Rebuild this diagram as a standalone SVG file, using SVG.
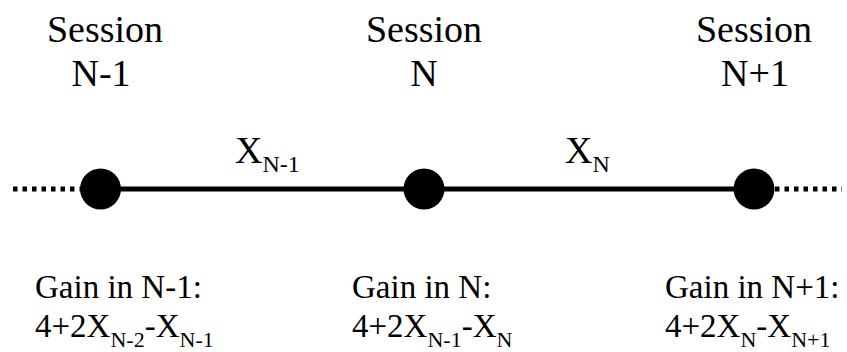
<svg xmlns="http://www.w3.org/2000/svg" width="847" height="352" viewBox="0 0 847 352">
<defs>
<line id="dotseg" x1="0" y1="0" x2="1" y2="0"/>
</defs>
<rect width="847" height="352" fill="#fff"/>
<g id="connectors" stroke="#000" stroke-width="5" fill="none">
<line x1="13" y1="189" x2="82" y2="189" stroke-dasharray="4.5 5"/>
<line x1="100" y1="189" x2="754" y2="189"/>
<line x1="775" y1="189" x2="842" y2="189" stroke-dasharray="4.5 5"/>
</g>
<g id="edge-labels" font-family="Liberation Serif" font-size="38" fill="#000">
<text x="235" y="163">X<tspan font-size="24" dy="9">N-1</tspan></text>
<text x="565" y="163">X<tspan font-size="24" dy="9">N</tspan></text>
</g>
<g id="node-n-minus-1" font-family="Liberation Serif" fill="#000">
<circle cx="100.5" cy="189" r="20.5"/>
<text x="105" y="42" font-size="38" text-anchor="middle">Session</text>
<text x="101" y="86" font-size="38" text-anchor="middle">N-1</text>
<text x="35" y="298" font-size="33">Gain in N-1:</text>
<text x="35" y="337" font-size="33">4+2X<tspan font-size="22" dy="10">N-2</tspan><tspan dy="-10">-X</tspan><tspan font-size="22" dy="10">N-1</tspan></text>
</g>
<g id="node-n" font-family="Liberation Serif" fill="#000">
<circle cx="424" cy="189" r="20.5"/>
<text x="424" y="42" font-size="38" text-anchor="middle">Session</text>
<text x="424" y="86" font-size="38" text-anchor="middle">N</text>
<text x="352" y="298" font-size="33">Gain in N:</text>
<text x="352" y="337" font-size="33">4+2X<tspan font-size="22" dy="10">N-1</tspan><tspan dy="-10">-X</tspan><tspan font-size="22" dy="10">N</tspan></text>
</g>
<g id="node-n-plus-1" font-family="Liberation Serif" fill="#000">
<circle cx="754" cy="189" r="20.5"/>
<text x="754" y="42" font-size="38" text-anchor="middle">Session</text>
<text x="755" y="86" font-size="38" text-anchor="middle">N+1</text>
<text x="665" y="298" font-size="33">Gain in N+1:</text>
<text x="665" y="337" font-size="33">4+2X<tspan font-size="22" dy="10">N</tspan><tspan dy="-10">-X</tspan><tspan font-size="22" dy="10">N+1</tspan></text>
</g>
</svg>
